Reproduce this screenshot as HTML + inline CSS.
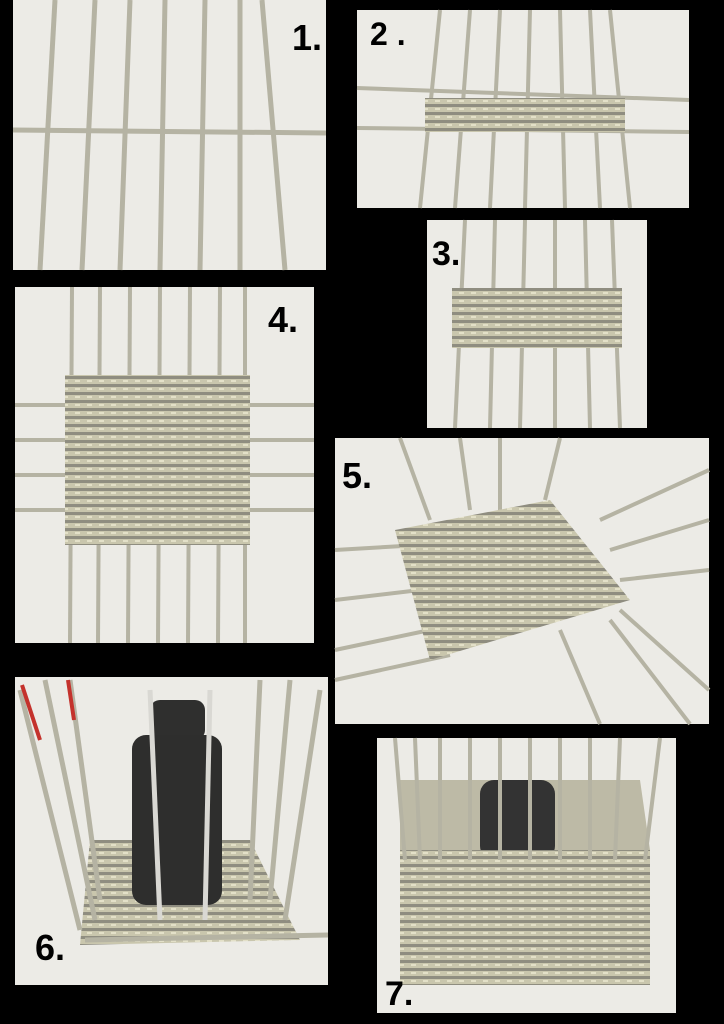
<!DOCTYPE html>
<html><head><meta charset="utf-8"><style>
html,body{margin:0;padding:0;background:#000;}
svg{display:block}
text{font-family:"Liberation Sans",sans-serif;font-weight:bold;fill:#000}
</style></head><body>
<svg width="724" height="1024" viewBox="0 0 724 1024" xmlns="http://www.w3.org/2000/svg">
<defs>
<pattern id="weave" width="12" height="8" patternUnits="userSpaceOnUse">
<rect width="12" height="8" fill="#c9c6ad"/>
<rect y="0" width="12" height="3" fill="#8f8d80"/>
<rect x="3" y="4" width="5" height="2" fill="#e3e0c8"/>
</pattern>
</defs>
<rect width="724" height="1024" fill="#000"/>
<!-- Panel 1 -->
<rect x="13" y="0" width="313" height="270" fill="#ecebe6"/>
<g stroke="#b5b3a3" stroke-width="5">
<line x1="55" y1="0" x2="40" y2="270"/><line x1="95" y1="0" x2="82" y2="270"/>
<line x1="130" y1="0" x2="120" y2="270"/><line x1="165" y1="0" x2="160" y2="270"/>
<line x1="205" y1="0" x2="200" y2="270"/><line x1="240" y1="0" x2="240" y2="270"/>
<line x1="262" y1="0" x2="285" y2="270"/>
<line x1="13" y1="130" x2="326" y2="133"/>
</g>
<text x="292" y="50" font-size="36">1.</text>
<!-- Panel 2 -->
<rect x="357" y="10" width="332" height="198" fill="#ecebe6"/>
<g stroke="#b5b3a3" stroke-width="4">
<line x1="440" y1="10" x2="420" y2="208"/><line x1="470" y1="10" x2="455" y2="208"/>
<line x1="500" y1="10" x2="490" y2="208"/><line x1="530" y1="10" x2="525" y2="208"/>
<line x1="560" y1="10" x2="565" y2="208"/><line x1="590" y1="10" x2="600" y2="208"/>
<line x1="610" y1="10" x2="630" y2="208"/>
<line x1="357" y1="88" x2="689" y2="100"/><line x1="357" y1="128" x2="689" y2="132"/>
</g>
<rect x="425" y="98" width="200" height="34" fill="url(#weave)"/>
<text x="370" y="45" font-size="32">2 .</text>
<!-- Panel 3 -->
<rect x="427" y="220" width="220" height="208" fill="#ecebe6"/>
<g stroke="#b5b3a3" stroke-width="4">
<line x1="465" y1="220" x2="455" y2="428"/><line x1="495" y1="220" x2="490" y2="428"/>
<line x1="525" y1="220" x2="520" y2="428"/><line x1="555" y1="220" x2="555" y2="428"/>
<line x1="585" y1="220" x2="590" y2="428"/><line x1="612" y1="220" x2="620" y2="428"/>
</g>
<rect x="452" y="288" width="170" height="60" fill="url(#weave)"/>
<text x="432" y="265" font-size="34">3.</text>
<!-- Panel 4 -->
<rect x="15" y="287" width="299" height="356" fill="#ecebe6"/>
<g stroke="#b5b3a3" stroke-width="4">
<line x1="72" y1="287" x2="70" y2="643"/><line x1="100" y1="287" x2="98" y2="643"/>
<line x1="130" y1="287" x2="128" y2="643"/><line x1="160" y1="287" x2="158" y2="643"/>
<line x1="190" y1="287" x2="188" y2="643"/><line x1="220" y1="287" x2="218" y2="643"/>
<line x1="245" y1="287" x2="245" y2="643"/>
<line x1="15" y1="405" x2="314" y2="405"/><line x1="15" y1="440" x2="314" y2="440"/>
<line x1="15" y1="475" x2="314" y2="475"/><line x1="15" y1="510" x2="314" y2="510"/>
</g>
<rect x="65" y="375" width="185" height="170" fill="url(#weave)"/>
<text x="268" y="332" font-size="36">4.</text>
<!-- Panel 5 -->
<rect x="335" y="438" width="374" height="286" fill="#ecebe6"/>
<g stroke="#b5b3a3" stroke-width="4">
<line x1="335" y1="550" x2="420" y2="545"/><line x1="335" y1="600" x2="420" y2="590"/>
<line x1="335" y1="650" x2="430" y2="630"/><line x1="335" y1="680" x2="450" y2="655"/>
<line x1="600" y1="520" x2="709" y2="470"/><line x1="610" y1="550" x2="709" y2="520"/>
<line x1="620" y1="580" x2="709" y2="570"/><line x1="620" y1="610" x2="709" y2="690"/>
<line x1="400" y1="438" x2="430" y2="520"/><line x1="460" y1="438" x2="470" y2="510"/>
<line x1="500" y1="438" x2="500" y2="510"/><line x1="560" y1="438" x2="545" y2="500"/>
<line x1="610" y1="620" x2="690" y2="724"/><line x1="560" y1="630" x2="600" y2="724"/>
</g>
<polygon points="395,530 550,500 630,600 430,660" fill="url(#weave)"/>
<text x="342" y="488" font-size="36">5.</text>
<!-- Panel 6 -->
<rect x="15" y="677" width="313" height="308" fill="#ecebe6"/>
<polygon points="90,840 250,840 300,940 80,945" fill="url(#weave)"/>
<g stroke="#b5b3a3" stroke-width="5">
<line x1="20" y1="690" x2="80" y2="930"/><line x1="45" y1="680" x2="95" y2="920"/>
<line x1="70" y1="680" x2="100" y2="900"/><line x1="260" y1="680" x2="250" y2="900"/>
<line x1="290" y1="680" x2="270" y2="900"/><line x1="320" y1="690" x2="285" y2="920"/>
<line x1="85" y1="940" x2="328" y2="935"/>
</g>
<g stroke="#c4322c" stroke-width="4">
<line x1="22" y1="685" x2="40" y2="740"/><line x1="68" y1="680" x2="74" y2="720"/>
</g>
<rect x="150" y="700" width="55" height="40" rx="10" fill="#2f2f2e"/>
<rect x="132" y="735" width="90" height="170" rx="14" fill="#2e2e2d"/>
<g stroke="#d9d8d3" stroke-width="5"><line x1="150" y1="690" x2="160" y2="920"/><line x1="210" y1="690" x2="205" y2="920"/></g>
<text x="35" y="960" font-size="36">6.</text>
<!-- Panel 7 -->
<rect x="377" y="738" width="299" height="275" fill="#ecebe6"/>
<polygon points="400,780 640,780 650,850 400,850" fill="#bdbaa6"/>
<rect x="480" y="780" width="75" height="80" rx="14" fill="#333"/>
<rect x="400" y="850" width="250" height="135" fill="url(#weave)"/>
<g stroke="#b5b3a3" stroke-width="4">
<line x1="395" y1="738" x2="405" y2="860"/><line x1="415" y1="738" x2="420" y2="860"/>
<line x1="440" y1="738" x2="440" y2="860"/><line x1="470" y1="738" x2="470" y2="860"/>
<line x1="500" y1="738" x2="500" y2="860"/><line x1="530" y1="738" x2="530" y2="860"/>
<line x1="560" y1="738" x2="560" y2="860"/><line x1="590" y1="738" x2="590" y2="860"/>
<line x1="620" y1="738" x2="615" y2="860"/><line x1="660" y1="738" x2="645" y2="860"/>
</g>
<text x="385" y="1005" font-size="34">7.</text>
</svg>
</body></html>
